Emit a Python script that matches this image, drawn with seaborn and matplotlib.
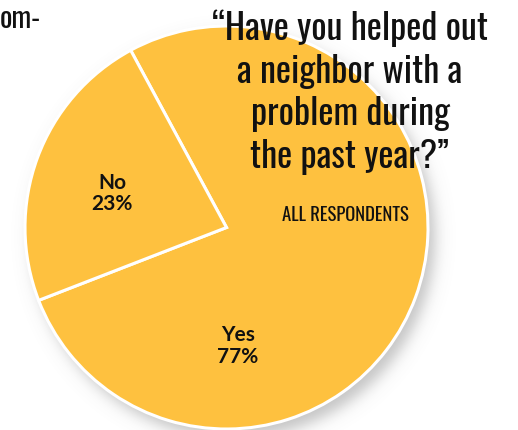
import numpy as np
import matplotlib
matplotlib.use("Agg")
import matplotlib.pyplot as plt
import seaborn as sns

# Survey answers
answers = ["Yes", "No"]
shares = [77, 23]

title_lines = ["\u201cHave you helped out", "a neighbor with a", "problem during", "the past year?\u201d"]
subtitle = "ALL RESPONDENTS"
carry_over = "om-"

W, H = 518, 430
sns.set_theme(style="white")
plt.rcParams["font.family"] = ["Oswald", "DejaVu Sans"]

fig = plt.figure(figsize=(W / 100, H / 100), dpi=100)
ax = fig.add_axes([0, 0, 1, 1])

pie_color = "#FEC13F"
cx, cy, r = 226.5, H - 227.5, 201.5

# soft drop shadow below and to the right of the disc
yy, xx = np.mgrid[0:H, 0:W]
yy = H - yy - 0.5
xx = xx + 0.5
d = np.hypot(xx - (cx + 7), yy - (cy - 9)) - r
alpha = 0.42 / (1 + np.exp(d / 4.5))
shadow = np.zeros((H, W, 4))
shadow[..., :3] = 0.45
shadow[..., 3] = alpha
ax.imshow(shadow, extent=(0, W, 0, H), origin="upper", zorder=0, interpolation="bilinear")

wedges, _ = ax.pie(
    shares,
    colors=[pie_color] * len(shares),
    startangle=201.2,
    counterclock=True,
    center=(cx, cy),
    radius=r,
    wedgeprops=dict(edgecolor="white", linewidth=2.2),
)
for w in wedges:
    w.set_zorder(2)

ax.set_xlim(0, W)
ax.set_ylim(0, H)
ax.set_aspect("equal")
ax.axis("off")

# wedge labels
label_pos = {"Yes": (238, 346), "No": (112, 193.5)}
for name, val in zip(answers, shares):
    px, py = label_pos[name]
    ax.text(px, H - py, f"{name}\n{val}%", ha="center", va="center",
            fontsize=15, fontweight="bold", family=["Lato", "DejaVu Sans"],
            linespacing=1.12, color="#111111", zorder=5)

# headline
baselines = [40, 83, 125, 168]
for line, b in zip(title_lines, baselines):
    ax.text(350, H - b, line, ha="center", va="baseline", fontsize=26,
            color="#111111", zorder=5)

ax.text(345, H - 221, subtitle, ha="center", va="baseline", fontsize=13.5,
        color="#111111", zorder=5)

# tail of a word from the neighbouring column
ax.text(0, H - 28, carry_over, ha="left", va="baseline", fontsize=21,
        color="#111111", zorder=5)

fig.savefig("out.png", dpi=100, facecolor="white")
